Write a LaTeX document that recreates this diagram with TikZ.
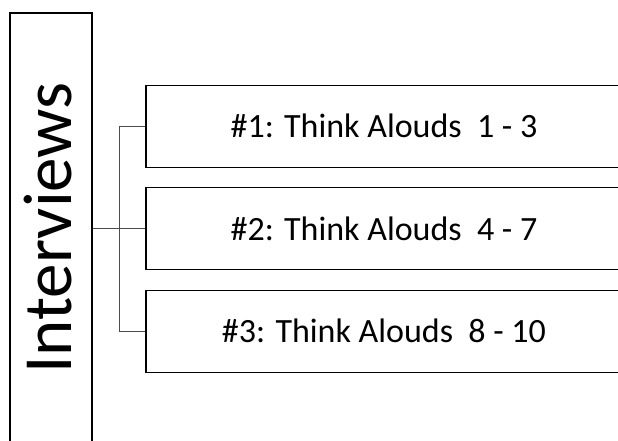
\documentclass[tikz,border=0pt]{standalone}
\usepackage{fontspec}
\setmainfont{Carlito}
\begin{document}
\begin{tikzpicture}[x=1pt,y=-1pt,
  boxline/.style={draw=black,line width=1.6pt},
  sidebox/.style={boxline,minimum width=82pt,minimum height=440pt,inner sep=0pt,anchor=center},
  itembox/.style={boxline,minimum width=476pt,minimum height=82pt,inner sep=0pt,font=\fontsize{34}{40}\selectfont},
  link/.style={draw=black!70,line width=0.9pt}]
  \useasboundingbox (0,0) rectangle (618,440);
  \clip (0,0) rectangle (618,440);
  % tall label box on the left
  \node[sidebox] (iv) at (51,233) {};
  \node[rotate=90,font=\fontsize{69}{76}\selectfont] (ivtext) at (48,228) {Interviews};
  % three session boxes
  \node[itembox] (b1) at (384,126.3) {\#1: Think Alouds\ \ 1 - 3};
  \node[itembox] (b2) at (384,228.5) {\#2: Think Alouds\ \ 4 - 7};
  \node[itembox] (b3) at (384,331.3) {\#3: Think Alouds\ \ 8 - 10};
  % bracket connectors
  \coordinate (fork) at (119,126.3);
  \draw[link] (iv.east |- b2.west) -- (b2.west);
  \draw[link] (b1.west) -- (fork) |- (b3.west);
\end{tikzpicture}
\end{document}
